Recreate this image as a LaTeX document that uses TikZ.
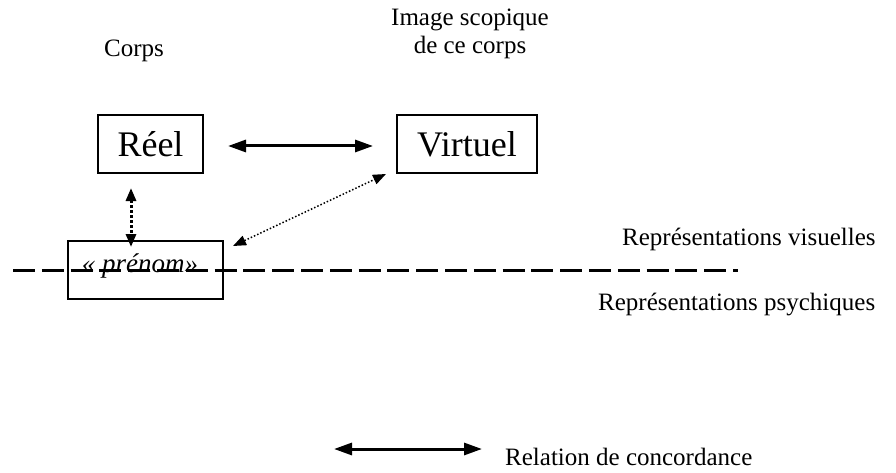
\documentclass[tikz,border=0pt]{standalone}
\usepackage{fontspec}
\setmainfont{Liberation Serif}
\usetikzlibrary{arrows.meta}
\begin{document}
\begin{tikzpicture}[x=1pt,y=-1pt,
  lbl/.style={inner sep=0pt,font=\fontsize{25}{29}\selectfont},
  bigbox/.style={draw,line width=2pt,inner sep=0pt,font=\fontsize{36}{40}\selectfont},
  bigtip/.tip={Triangle[length=18pt,width=12pt]},
  smalltip/.tip={Triangle[length=13pt,width=10pt]}]
\useasboundingbox (0,0) rectangle (896,473);
% boxes
\node[bigbox,minimum width=140pt,minimum height=58pt] (virt) at (467,144) {Virtuel};
\node[bigbox,minimum width=105pt,minimum height=58pt] (reel) at (150.5,144) {Réel};
\node[draw,line width=2pt,minimum width=155pt,minimum height=58pt,inner sep=0pt] (prenom) at (145.5,270) {};
% dashed line
\coordinate (d1) at (13,270);
\coordinate (d2) at (738,270);
\draw[line width=3pt,dash pattern=on 22pt off 6.8pt] (d1) -- (d2);
\node[lbl,anchor=base,font=\fontsize{27}{31}\selectfont\itshape] (pn) at (140,272) {« prénom»};
% labels
\node[lbl,anchor=base] (corps) at (134,57) {Corps};
\node[lbl,anchor=base] (img1) at (470,26) {Image scopique};
\node[lbl,anchor=base] (img2) at (470,54) {de ce corps};
\node[lbl,anchor=base west] (vis) at (622,245) {Représentations visuelles};
\node[lbl,anchor=base west] (psy) at (598,310) {Représentations psychiques};
\node[lbl,anchor=base west] (rel) at (505,465) {Relation de concordance};
% arrows
\path (reel.east) ++(24,2) coordinate (a1) (virt.west) ++(-23,2) coordinate (a2);
\draw[line width=3pt,{bigtip}-{bigtip}] (a1) -- (a2);
\coordinate (v1) at (131,188);
\coordinate (v2) at (131,247);
\draw[line width=3pt,dotted,{smalltip}-{smalltip}] (v1) -- (v2);
\coordinate (g1) at (233,246);
\coordinate (g2) at (386,174);
\draw[line width=1.5pt,dotted,{smalltip}-{smalltip}] (g1) -- (g2);
\coordinate (l1) at (334,449);
\coordinate (l2) at (482,449);
\draw[line width=3pt,{bigtip}-{bigtip}] (l1) -- (l2);
\end{tikzpicture}
\end{document}
